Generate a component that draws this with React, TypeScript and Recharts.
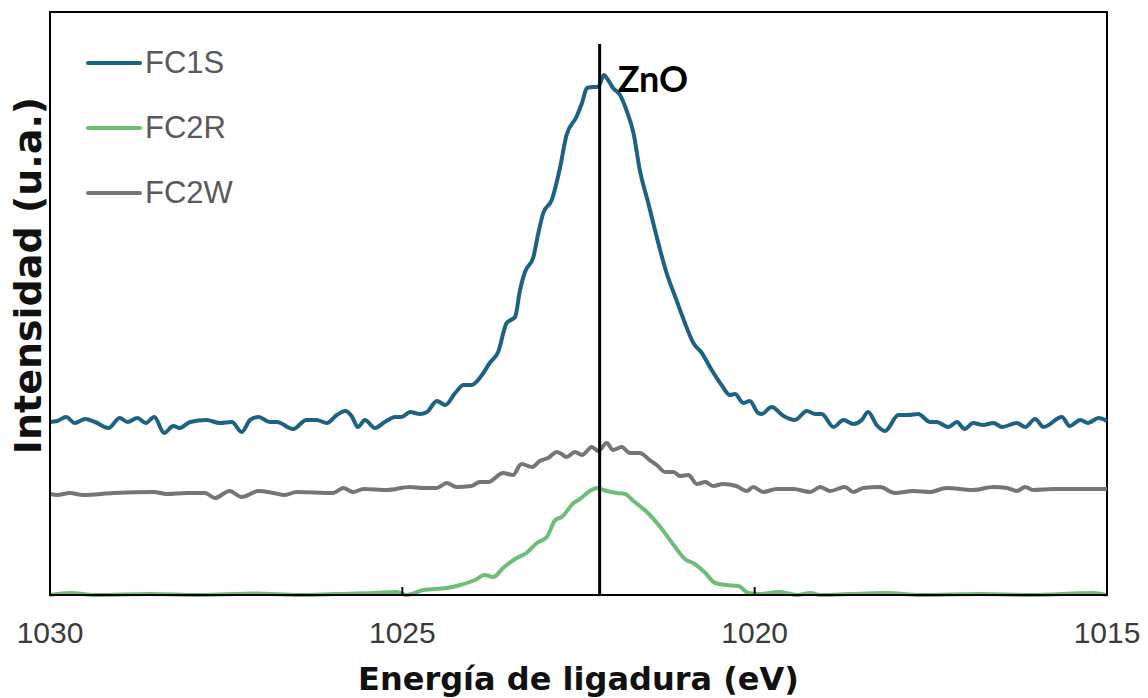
import { LineChart, Line, XAxis, YAxis, ReferenceLine, ReferenceArea, ReferenceDot, Legend } from "recharts";

// binding energy (eV) and intensity (a.u.)
const xTicks = [1030, 1025, 1020, 1015];

const fc1sEnergy = [1030.0, 1029.9, 1029.77, 1029.65, 1029.5, 1029.36, 1029.17, 1029.01, 1028.9, 1028.76, 1028.64, 1028.52, 1028.38, 1028.25, 1028.16, 1028.01, 1027.78, 1027.59, 1027.42, 1027.28, 1027.16, 1027.04, 1026.88, 1026.78, 1026.55, 1026.36, 1026.22, 1026.07, 1025.93, 1025.81, 1025.72, 1025.63, 1025.53, 1025.39, 1025.25, 1025.1, 1025.01, 1024.89, 1024.75, 1024.65, 1024.51, 1024.39, 1024.25, 1024.13, 1024.02, 1023.87, 1023.76, 1023.64, 1023.52, 1023.4, 1023.33, 1023.26, 1023.14, 1023.07, 1023.0, 1022.88, 1022.76, 1022.67, 1022.53, 1022.45, 1022.38, 1022.29, 1022.22, 1022.14, 1022.08, 1022.01, 1021.91, 1021.82, 1021.72, 1021.63, 1021.51, 1021.39, 1021.25, 1021.11, 1020.99, 1020.87, 1020.75, 1020.61, 1020.47, 1020.35, 1020.28, 1020.16, 1020.07, 1019.95, 1019.9, 1019.76, 1019.59, 1019.43, 1019.26, 1019.14, 1019.05, 1018.88, 1018.74, 1018.6, 1018.48, 1018.39, 1018.27, 1018.15, 1017.96, 1017.82, 1017.68, 1017.51, 1017.42, 1017.25, 1017.13, 1017.02, 1016.9, 1016.76, 1016.61, 1016.49, 1016.28, 1016.16, 1016.02, 1015.9, 1015.64, 1015.53, 1015.38, 1015.27, 1015.12, 1015.0];
const fc1sIntensity = [173, 174, 178, 172, 176, 173, 167, 177, 173, 177, 172, 178, 162, 169, 167, 173, 175, 172, 173, 163, 175, 178, 173, 173, 166, 175, 175, 172, 180, 184, 179, 168, 175, 167, 173, 178, 178, 183, 181, 183, 194, 190, 202, 210, 210, 220, 232, 243, 272, 278, 305, 323, 338, 362, 382, 395, 428, 460, 478, 492, 507, 508, 508, 520, 515, 507, 500, 485, 462, 425, 392, 358, 322, 295, 272, 252, 242, 225, 210, 200, 201, 192, 194, 182, 181, 188, 179, 175, 184, 181, 181, 168, 175, 171, 175, 183, 170, 164, 180, 180, 181, 173, 173, 168, 173, 166, 172, 170, 172, 168, 172, 168, 176, 168, 178, 169, 175, 172, 177, 174];

const fc2rEnergy = [1030.0, 1029.72, 1029.36, 1028.58, 1027.87, 1027.09, 1026.45, 1025.96, 1025.39, 1025.08, 1024.94, 1024.7, 1024.37, 1024.18, 1023.97, 1023.83, 1023.71, 1023.57, 1023.4, 1023.24, 1023.09, 1022.95, 1022.83, 1022.74, 1022.57, 1022.48, 1022.34, 1022.24, 1022.1, 1021.96, 1021.84, 1021.72, 1021.53, 1021.34, 1021.15, 1020.99, 1020.85, 1020.7, 1020.56, 1020.4, 1020.23, 1020.09, 1019.92, 1019.64, 1019.4, 1019.21, 1019.07, 1018.65, 1018.13, 1017.65, 1016.8, 1016.09, 1015.2, 1015.0];
const fc2rIntensity = [0, 2, 0, 1, 0, 1.5, 0, 1, 2, 3, 0, 5, 7, 10, 15, 20, 18, 27, 36, 42, 52, 58, 75, 78, 92, 96, 104, 107, 104, 102, 101, 94, 83, 68, 50, 36, 31, 22, 12, 10, 9, 2, 1, 3, 0, 2, 0, 1, 2, 0, 1, 0, 2, 0];

const fc2wEnergy = [1030.0, 1029.9, 1029.72, 1029.53, 1029.1, 1028.53, 1028.34, 1028.06, 1027.8, 1027.66, 1027.45, 1027.28, 1027.04, 1026.83, 1026.67, 1026.5, 1025.98, 1025.84, 1025.7, 1025.55, 1025.22, 1024.89, 1024.7, 1024.51, 1024.37, 1024.23, 1024.02, 1023.9, 1023.78, 1023.57, 1023.43, 1023.31, 1023.16, 1023.05, 1022.93, 1022.81, 1022.74, 1022.67, 1022.55, 1022.45, 1022.31, 1022.22, 1022.1, 1022.01, 1021.89, 1021.77, 1021.63, 1021.49, 1021.39, 1021.27, 1021.15, 1021.06, 1020.94, 1020.82, 1020.7, 1020.59, 1020.45, 1020.26, 1020.11, 1020.02, 1019.88, 1019.69, 1019.45, 1019.21, 1019.07, 1018.93, 1018.72, 1018.6, 1018.46, 1018.22, 1018.01, 1017.75, 1017.51, 1017.28, 1016.9, 1016.61, 1016.42, 1016.28, 1016.16, 1016.05, 1015.76, 1015.5, 1015.0];
const fc2wIntensity = [101, 100, 102, 100, 102, 103, 101, 102, 102, 97, 104, 98, 104, 102, 100, 103, 102, 107, 103, 106, 105, 108, 107, 107, 112, 108, 109, 113, 113, 122, 120, 131, 128, 134, 137, 143, 141, 138, 143, 140, 148, 144, 152, 145, 148, 142, 142, 135, 130, 123, 123, 119, 120, 111, 113, 109, 111, 109, 104, 108, 103, 106, 106, 103, 108, 104, 108, 103, 107, 108, 102, 104, 103, 107, 105, 108, 107, 104, 108, 105, 106, 106, 106];

const znoEnergy = 1022.2;
const znoLineTop = 551;
const znoLabelLevel = 516;

const zip = (e: number[], v: number[]) => e.map((x, k) => ({ energy: x, intensity: v[k] }));

const series = [
  { name: "FC1S", color: "#1d6283", data: zip(fc1sEnergy, fc1sIntensity) },
  { name: "FC2R", color: "#6dbd79", data: zip(fc2rEnergy, fc2rIntensity) },
  { name: "FC2W", color: "#787474", data: zip(fc2wEnergy, fc2wIntensity) },
];

const sans = "'Liberation Sans', Arial, sans-serif";
const titleFont = "'DejaVu Sans', Verdana, sans-serif";

function LegendBox() {
  return (
    <div style={{ fontFamily: sans }}>
      {series.map((s) => (
        <div key={s.name} style={{ display: "flex", alignItems: "center", height: 65 }}>
          <svg width={56} height={8} style={{ marginRight: 3 }}>
            <line x1={2} y1={4} x2={54} y2={4} stroke={s.color} strokeWidth={4} strokeLinecap="round" />
          </svg>
          <span style={{ fontSize: 31, color: "#595959", lineHeight: "31px" }}>{s.name}</span>
        </div>
      ))}
    </div>
  );
}

export default function App() {
  return (
    <div style={{ position: "absolute", left: 0, top: 0, background: "#fff" }}>
      <LineChart width={1148} height={698} margin={{ top: 12, right: 41, left: 0, bottom: 43 }}>
        <XAxis
          type="number"
          dataKey="energy"
          domain={[1015, 1030]}
          reversed
          ticks={xTicks}
          height={60}
          stroke="#000"
          axisLine={{ stroke: "#000", strokeWidth: 2 }}
          tickLine={{ stroke: "#000", strokeWidth: 2 }}
          tickSize={-8}
          tickMargin={35}
          tick={{ fontFamily: sans, fontSize: 30, fill: "#3a3a3a" }}
          allowDuplicatedCategory={false}
          label={{
            content: ({ viewBox }: any) => (
              <text
                x={viewBox.x + viewBox.width / 2}
                y={viewBox.y + 95}
                textAnchor="middle"
                style={{ fontFamily: titleFont, fontSize: 32, fontWeight: 700, fill: "#111" }}
              >
                Energía de ligadura (eV)
              </text>
            ),
          }}
        />
        <YAxis
          type="number"
          domain={[0, 583]}
          width={50}
          tick={false}
          tickLine={false}
          axisLine={{ stroke: "#000", strokeWidth: 2 }}
          label={{
            content: ({ viewBox }: any) => {
              const cx = viewBox.x + 28;
              const cy = viewBox.y + viewBox.height / 2 - 28;
              return (
                <text
                  x={cx}
                  y={cy}
                  textAnchor="middle"
                  dominantBaseline="central"
                  transform={`rotate(-90, ${cx}, ${cy})`}
                  style={{ fontFamily: titleFont, fontSize: 38, fontWeight: 700, fill: "#111" }}
                >
                  Intensidad (u.a.)
                </text>
              );
            },
          }}
        />
        <ReferenceArea x1={1030} x2={1015} y1={0} y2={583} fill="none" stroke="#000" strokeWidth={2} />
        {series.map((s) => (
          <Line
            key={s.name}
            data={s.data}
            dataKey="intensity"
            name={s.name}
            type="monotone"
            stroke={s.color}
            strokeWidth={4}
            dot={false}
            isAnimationActive={false}
          />
        ))}
        <ReferenceLine
          segment={[
            { x: znoEnergy, y: 0 },
            { x: znoEnergy, y: znoLineTop },
          ]}
          stroke="#000"
          strokeWidth={3}
        />
        <ReferenceDot
          x={znoEnergy}
          y={znoLabelLevel}
          r={0}
          stroke="none"
          label={{
            value: "ZnO",
            position: "right",
            offset: 18,
            style: { fontFamily: "Lato, 'Open Sans', sans-serif", fontSize: 36, fontWeight: 700, fill: "#000" },
          }}
        />
        <Legend
          layout="vertical"
          align="center"
          verticalAlign="middle"
          wrapperStyle={{ left: 86, top: 30, width: 200 }}
          content={() => <LegendBox />}
        />
      </LineChart>
    </div>
  );
}
